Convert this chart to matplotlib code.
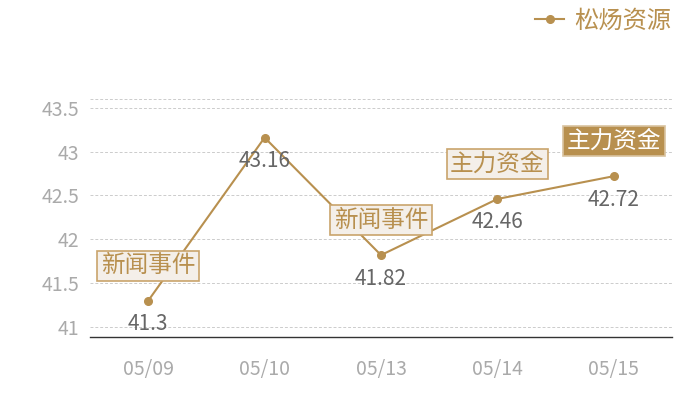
import matplotlib
matplotlib.use("Agg")
import matplotlib.pyplot as plt

plt.rcParams['font.family'] = ['Noto Sans CJK SC', 'DejaVu Sans']

dates = ["05/09", "05/10", "05/13", "05/14", "05/15"]
prices = [41.3, 43.16, 41.82, 42.46, 42.72]
events = ["新闻事件", None, "新闻事件", "主力资金", "主力资金"]
highlight = [False, False, False, False, True]
series_name = "松炀资源"

gold = "#b8904f"

fig = plt.figure(figsize=(7, 4), dpi=100)
ax = fig.add_axes([0.1286, 0.1575, 0.8314, 0.595])

x = list(range(len(dates)))
ax.plot(x, prices, color=gold, lw=1.5, marker="o", ms=5.5, label=series_name, zorder=3)

for i, v in enumerate(prices):
    ax.annotate(str(v), (i, v), xytext=(0, -9), textcoords="offset points",
                ha="center", va="top", fontsize=15, color="#666666", zorder=5)

for i, ev in enumerate(events):
    if ev is None:
        continue
    if highlight[i]:
        box = dict(boxstyle="square,pad=0.15", fc=gold, ec="#d9c3a0", lw=1.2)
        tc = "white"
    else:
        box = dict(boxstyle="square,pad=0.15", fc="#f4efe9", ec="#c9a46c", lw=1.2)
        tc = gold
    ax.annotate(ev, (i, prices[i]), xytext=(0, 25), textcoords="offset points",
                ha="center", va="center", fontsize=17, color=tc, bbox=box, zorder=6)

ax.set_xlim(-0.5, len(dates) - 0.5)
ax.set_ylim(40.886, 43.6)
ax.set_xticks(x)
ax.set_xticklabels(dates)
ax.set_yticks([41, 41.5, 42, 42.5, 43, 43.5])
ax.set_yticklabels(["41", "41.5", "42", "42.5", "43", "43.5"])
ax.tick_params(axis="both", length=0, colors="#aaaaaa", labelsize=14)
ax.tick_params(axis="x", pad=16)
ax.tick_params(axis="y", pad=8)
ax.grid(axis="y", color="#cccccc", ls=(0, (3, 2)), lw=0.7)
ax.axhline(43.6, color="#cccccc", ls=(0, (3, 2)), lw=0.7)
for s in ["top", "right", "left"]:
    ax.spines[s].set_visible(False)
ax.spines["bottom"].set_color("#333333")
ax.spines["bottom"].set_linewidth(1)

leg = fig.legend(loc="upper right", bbox_to_anchor=(0.99, 1.035), frameon=False,
                 fontsize=17.5, handlelength=1.2, handletextpad=0.4)
for t in leg.get_texts():
    t.set_color(gold)

fig.savefig("out.png", dpi=100)
